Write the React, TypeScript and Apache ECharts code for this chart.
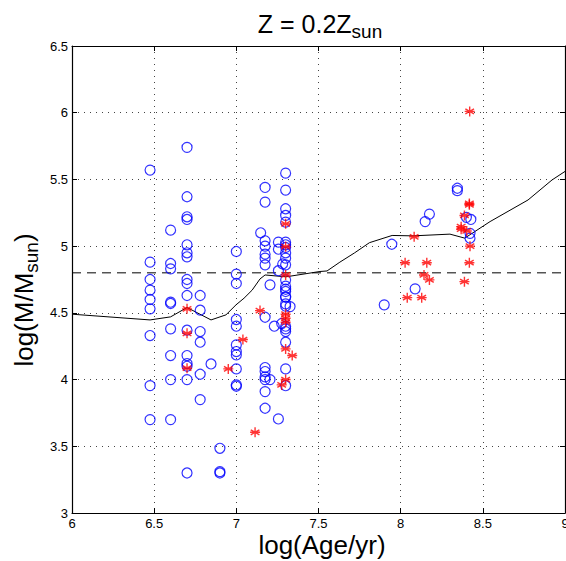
import React, { useEffect, useRef } from "react";
import * as echarts from "echarts";

// Observed clusters: blue open circles [log(Age/yr), log(M/Msun)]
const circleData: number[][] = [
  [6.475, 5.57], [6.475, 4.88], [6.475, 4.75], [6.475, 4.67], [6.475, 4.6], [6.475, 4.53], [6.475, 4.33], [6.475, 3.955], [6.475, 3.7],
  [6.6, 5.12], [6.6, 4.87], [6.6, 4.83], [6.6, 4.58], [6.6, 4.57], [6.6, 4.38], [6.6, 4.18], [6.6, 4.0], [6.6, 3.7],
  [6.7, 5.74], [6.7, 5.37], [6.7, 5.22], [6.7, 5.2], [6.7, 5.01], [6.7, 4.95], [6.7, 4.92], [6.7, 4.75], [6.7, 4.72], [6.7, 4.63],
  [6.7, 4.37], [6.7, 4.18], [6.7, 4.12], [6.7, 4.1], [6.7, 4.0], [6.7, 3.3],
  [6.78, 4.63], [6.78, 4.52], [6.78, 4.36], [6.78, 4.28], [6.78, 4.04], [6.78, 3.85],
  [6.846, 4.117],
  [6.9, 3.485], [6.9, 3.3], [6.9, 3.31],
  [7.0, 4.96], [7.0, 4.79], [7.0, 4.72], [7.0, 4.45], [7.0, 4.4], [7.0, 4.26], [7.0, 4.21], [7.0, 4.185], [7.0, 4.08], [7.0, 3.96], [7.0, 3.95],
  [7.148, 5.1],
  [7.175, 5.44], [7.175, 5.33], [7.175, 5.04], [7.175, 5.0], [7.175, 4.94], [7.175, 4.91], [7.175, 4.86], [7.175, 4.467],
  [7.175, 4.09], [7.175, 4.06], [7.175, 4.02], [7.175, 4.0], [7.175, 3.91], [7.175, 3.785],
  [7.205, 4.71], [7.205, 4.0],
  [7.231, 4.4],
  [7.256, 5.03], [7.256, 4.977], [7.256, 4.816], [7.256, 3.705],
  [7.276, 4.42], [7.282, 4.866],
  [7.3, 5.547], [7.3, 5.42], [7.3, 5.28], [7.3, 5.23], [7.3, 5.18], [7.3, 5.03], [7.3, 5.01], [7.3, 4.99], [7.3, 4.95], [7.3, 4.91],
  [7.3, 4.86], [7.3, 4.747], [7.3, 4.7], [7.3, 4.677], [7.3, 4.66], [7.3, 4.62], [7.3, 4.617], [7.3, 4.567], [7.3, 4.55],
  [7.3, 4.4], [7.3, 4.38], [7.3, 4.36], [7.3, 4.28], [7.3, 4.08], [7.3, 3.954],
  [7.327, 4.547],
  [7.9, 4.56], [7.946, 5.014], [8.088, 4.68], [8.149, 5.184], [8.175, 5.24],
  [8.345, 5.434], [8.345, 5.416], [8.4, 5.216], [8.427, 5.2], [8.422, 5.096], [8.422, 5.06],
];

// Red asterisks
const starData: number[][] = [
  [6.7, 4.53], [6.7, 4.347], [6.7, 4.085],
  [6.951, 4.08], [7.04, 4.3], [7.114, 3.605], [7.144, 4.517],
  [7.3, 5.167], [7.3, 4.996], [7.3, 4.784], [7.3, 4.49], [7.3, 4.46], [7.3, 4.43], [7.3, 4.23], [7.3, 4.0],
  [7.34, 4.18], [7.276, 3.96],
  [8.42, 6.01], [8.418, 5.31], [8.418, 5.32], [8.388, 5.23], [8.368, 5.146], [8.368, 5.127], [8.402, 5.114],
  [8.082, 5.07], [8.422, 5.0],
  [8.027, 4.876], [8.159, 4.876], [8.418, 4.876],
  [8.142, 4.784], [8.175, 4.747], [8.388, 4.734],
  [8.04, 4.614], [8.128, 4.614],
];

// Model track (solid black line)
const trackData: number[][] = [
  [6.0, 4.49], [6.475, 4.447], [6.6, 4.47], [6.7, 4.54], [6.846, 4.447], [6.937, 4.485], [6.998, 4.56],
  [7.047, 4.61], [7.096, 4.67], [7.144, 4.754], [7.175, 4.784], [7.302, 4.77], [7.509, 4.81], [7.552, 4.814],
  [7.63, 4.88], [7.72, 4.95], [7.81, 5.026], [7.948, 5.08], [8.075, 5.077], [8.3, 5.09], [8.39, 5.06],
  [8.544, 5.184], [8.775, 5.346], [8.921, 5.496], [9.0, 5.56],
];

// Dashed reference level
const dashedData: number[][] = [[6, 4.8], [9, 4.8]];

const xTicks = ["6", "6.5", "7", "7.5", "8", "8.5", "9"];
const yTicks = ["3", "3.5", "4", "4.5", "5", "5.5", "6", "6.5"];

const FONT = "Liberation Sans, Arial, Helvetica, sans-serif";
const ASTERISK = "path://M0,-10L0,10M-8.66,-5L8.66,5M-8.66,5L8.66,-5M-10,0L10,0";

export default function App() {
  const ref = useRef<HTMLDivElement>(null);
  useEffect(() => {
    if (!ref.current) return;
    document.body.style.margin = "0";
    const chart = echarts.init(ref.current, undefined, { renderer: "svg", width: 566, height: 561 });
    const fmt = (list: string[], min: number) => (v: number) => {
      const i = Math.round((v - min) / 0.5);
      return list[i] ?? "";
    };
    const splitLine = { show: true, lineStyle: { color: "#444", type: [1, 5] as any, width: 1 } };
    const axisLine = { show: true, onZero: false, lineStyle: { color: "#000", width: 1.2 } };
    const tick = { show: true, inside: true, length: 5, lineStyle: { color: "#000" } };
    const sub = { fontSize: 19, fontFamily: FONT, fill: "#000", padding: [15, 0, 0, 0] };
    const main = { fontSize: 26, fontFamily: FONT, fill: "#000" };
    chart.setOption({
      animation: false,
      backgroundColor: "#fff",
      grid: { left: 72, right: 1, top: 46, bottom: 48, containLabel: false, outerBoundsMode: "none" },
      graphic: [
        {
          type: "text", x: 320, y: 24,
          style: {
            text: "{a|Z = 0.2Z}{b|sun}", align: "center", verticalAlign: "middle", fill: "#000",
            rich: { a: { ...main, fontSize: 25 }, b: { ...sub, fontSize: 19 } },
          },
        },
        {
          type: "text", x: 322, y: 545,
          style: { text: "log(Age/yr)", align: "center", verticalAlign: "middle", fill: "#000", font: `26px ${FONT}` },
        },
        {
          type: "text", x: 24, y: 300, rotation: Math.PI / 2,
          style: {
            text: "{a|log(M/M}{b|sun}{a|)}", align: "center", verticalAlign: "middle", fill: "#000",
            rich: { a: main, b: sub },
          },
        },
      ],
      xAxis: [
        {
          type: "value", min: 6, max: 9, interval: 0.5, position: "bottom",
          axisLine, axisTick: tick, splitLine,
          axisLabel: { formatter: fmt(xTicks, 6), color: "#000", fontSize: 13, fontFamily: FONT, margin: 4 },
        },
        {
          type: "value", min: 6, max: 9, interval: 0.5, position: "top",
          axisLine, axisTick: tick, splitLine: { show: false }, axisLabel: { show: false },
        },
      ],
      yAxis: [
        {
          type: "value", min: 3, max: 6.5, interval: 0.5, position: "left",
          axisLine, axisTick: tick, splitLine,
          axisLabel: { formatter: fmt(yTicks, 3), color: "#000", fontSize: 13, fontFamily: FONT, margin: 4 },
        },
        {
          type: "value", min: 3, max: 6.5, interval: 0.5, position: "right",
          axisLine, axisTick: tick, splitLine: { show: false }, axisLabel: { show: false },
        },
      ],
      series: [
        {
          type: "line", data: trackData, showSymbol: false, symbol: "none",
          lineStyle: { color: "#000", width: 1 }, z: 2,
        },
        {
          type: "line", data: dashedData, showSymbol: false, symbol: "none",
          lineStyle: { color: "#000", width: 1, type: [9, 6] as any }, z: 2,
        },
        {
          type: "scatter", data: circleData, symbol: "circle", symbolSize: 10,
          itemStyle: { color: "transparent", borderColor: "#0000ff", borderWidth: 1.2 }, z: 3,
        },
        {
          type: "scatter", data: starData, symbol: ASTERISK, symbolSize: 10,
          itemStyle: { color: "transparent", borderColor: "#ff0000", borderWidth: 1.4 }, z: 4,
        },
      ],
    });
    return () => chart.dispose();
  }, []);
  return <div ref={ref} style={{ width: 566, height: 561, background: "#fff" }} />;
}
